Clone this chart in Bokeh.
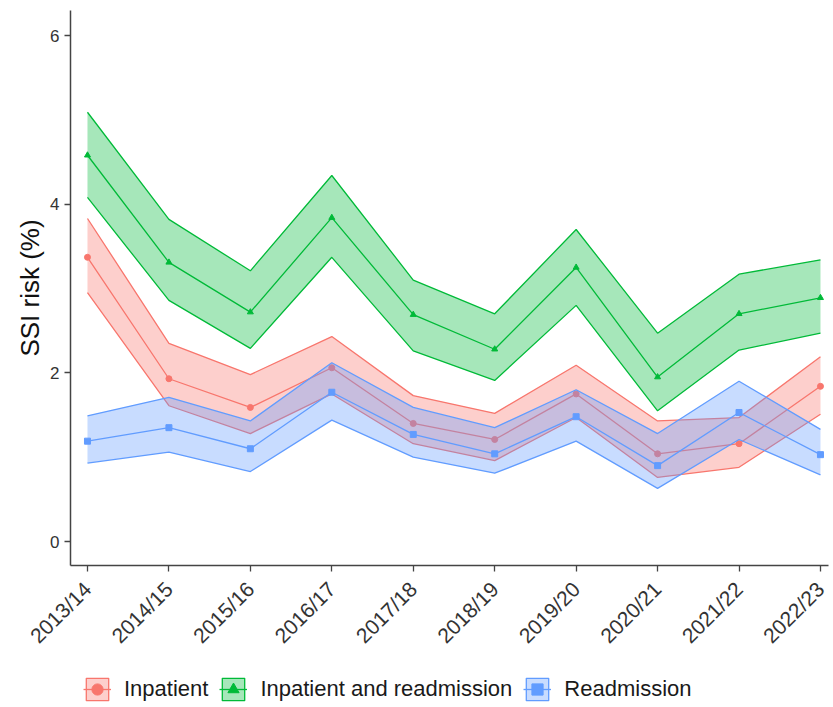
from math import pi
from bokeh.plotting import figure
from bokeh.models import ColumnDataSource, FixedTicker, Legend, LegendItem, Range1d
from bokeh.embed import file_html
from bokeh.resources import INLINE

years = ["2013/14", "2014/15", "2015/16", "2016/17", "2017/18",
         "2018/19", "2019/20", "2020/21", "2021/22", "2022/23"]

inp_mean = [3.37, 1.93, 1.59, 2.06, 1.40, 1.21, 1.75, 1.04, 1.16, 1.84]
inp_low = [2.95, 1.61, 1.28, 1.75, 1.16, 0.96, 1.47, 0.76, 0.88, 1.51]
inp_high = [3.83, 2.35, 1.98, 2.43, 1.73, 1.52, 2.09, 1.43, 1.47, 2.19]

both_mean = [4.58, 3.31, 2.72, 3.84, 2.69, 2.28, 3.25, 1.95, 2.70, 2.89]
both_low = [4.08, 2.86, 2.29, 3.37, 2.26, 1.91, 2.80, 1.55, 2.27, 2.47]
both_high = [5.09, 3.82, 3.21, 4.34, 3.10, 2.70, 3.70, 2.47, 3.17, 3.34]

read_mean = [1.19, 1.35, 1.10, 1.77, 1.27, 1.04, 1.48, 0.90, 1.53, 1.03]
read_low = [0.93, 1.06, 0.83, 1.44, 1.00, 0.81, 1.19, 0.63, 1.21, 0.79]
read_high = [1.49, 1.71, 1.43, 2.12, 1.59, 1.35, 1.80, 1.28, 1.90, 1.33]

series_names = ["Inpatient", "Inpatient and readmission", "Readmission"]
y_ticks = [0, 2, 4, 6]

xs = list(range(len(years)))

# axis extents; the frame extends beyond them to hold labels and the legend
x_lo, x_hi = -0.209, 9.1
y_lo, y_hi = -0.285, 6.296

p = figure(width=833, height=707, output_backend="svg", toolbar_location=None,
           x_range=Range1d(-1.068, 9.16), y_range=Range1d(-1.968, 6.415),
           min_border_left=0, min_border_top=0, min_border_right=0,
           min_border_bottom=0)
p.background_fill_color = "white"
p.border_fill_color = "white"
p.outline_line_color = None
p.xgrid.visible = False
p.ygrid.visible = False

styles = [
    ("#F8766D", "circle", inp_mean, inp_low, inp_high),
    ("#00BA38", "triangle", both_mean, both_low, both_high),
    ("#619CFF", "square", read_mean, read_low, read_high),
]

items = []
for name, (col, marker, m, lo, hi) in zip(series_names, styles):
    src = ColumnDataSource(dict(x=xs, m=m, lo=lo, hi=hi))
    p.varea(x="x", y1="lo", y2="hi", source=src, fill_color=col, fill_alpha=0.35)
    p.line(x="x", y="lo", source=src, line_color=col, line_width=1.3)
    p.line(x="x", y="hi", source=src, line_color=col, line_width=1.3)
    box = p.rect(x="x", y="m", width=0, height=0, source=src, fill_color=col,
                 fill_alpha=0.35, line_color=col, line_width=1.3)
    ln = p.line(x="x", y="m", source=src, line_color=col, line_width=1.3)
    sc = p.scatter(x="x", y="m", source=src, marker=marker, size=6,
                   fill_color=col, line_color=col)
    items.append(LegendItem(label=name, renderers=[box, ln, sc]))

legend = Legend(items=items, orientation="horizontal", location=(83, 4),
                label_text_font="Liberation Sans", label_text_font_size="22px",
                label_text_color="#1a1a1a", glyph_width=28, glyph_height=28,
                spacing=11, label_standoff=13, padding=0, margin=0,
                border_line_color=None, background_fill_alpha=0)
p.add_layout(legend, "center")

p.xaxis.ticker = FixedTicker(ticks=xs)
p.xaxis.major_label_overrides = {i: y for i, y in enumerate(years)}
p.xaxis.major_label_orientation = pi / 4
p.xaxis.fixed_location = y_lo
p.xaxis.bounds = (x_lo, x_hi)
p.yaxis.ticker = FixedTicker(ticks=y_ticks)
p.yaxis.fixed_location = x_lo
p.yaxis.bounds = (y_lo, y_hi)
p.yaxis.axis_label = "SSI risk (%)"

for ax in (p.xaxis, p.yaxis):
    ax.axis_line_color = "#444444"
    ax.axis_line_width = 1.5
    ax.major_tick_line_color = "#444444"
    ax.major_tick_line_width = 1.3
    ax.major_tick_out = 6
    ax.major_tick_in = 0
    ax.minor_tick_line_color = None
    ax.major_label_text_font = "Liberation Sans"
    ax.major_label_text_color = "#333333"
    ax.axis_label_text_font = "Liberation Sans"
    ax.axis_label_text_font_style = "normal"
    ax.axis_label_text_color = "#111111"

p.xaxis.major_label_text_font_size = "21px"
p.xaxis.major_label_standoff = 14
p.yaxis.major_label_text_font_size = "17px"
p.yaxis.major_label_standoff = 5
p.yaxis.axis_label_text_font_size = "26px"
p.yaxis.axis_label_standoff = 2

open("out.html", "w").write(file_html(p, INLINE))
